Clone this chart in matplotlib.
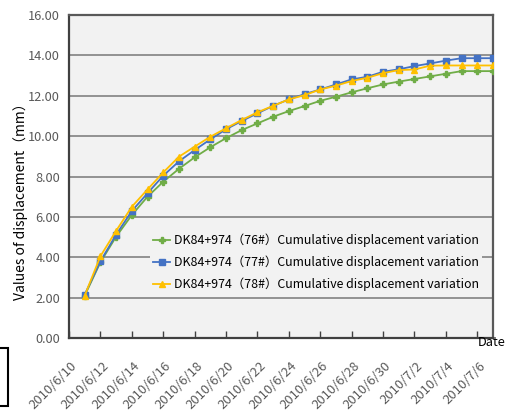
import numpy as np
import matplotlib
matplotlib.use("Agg")
import matplotlib.pyplot as plt
import matplotlib.patches as mpatches
import matplotlib.transforms as mtransforms
import datetime as dt

plt.rcParams['font.family'] = ['Noto Sans CJK SC', 'DejaVu Sans']

# Monitoring dates (daily readings)
start = dt.date(2010, 6, 11)
dates = [start + dt.timedelta(days=i) for i in range(27)]

# Cumulative displacement (mm) at three monitoring points
disp_76 = [2.10, 3.75, 5.02, 6.09, 7.00, 7.74, 8.38, 8.95, 9.45, 9.90,
           10.30, 10.63, 10.96, 11.24, 11.49, 11.75, 11.95, 12.17, 12.37,
           12.56, 12.70, 12.83, 12.96, 13.09, 13.22, 13.22, 13.22]
disp_77 = [2.15, 3.80, 5.12, 6.29, 7.17, 8.04, 8.75, 9.31, 9.84, 10.34,
           10.75, 11.13, 11.50, 11.82, 12.08, 12.31, 12.56, 12.81, 12.94,
           13.19, 13.31, 13.47, 13.60, 13.74, 13.86, 13.86, 13.86]
disp_78 = [2.10, 4.05, 5.31, 6.50, 7.36, 8.20, 8.98, 9.48, 9.97, 10.39,
           10.80, 11.18, 11.50, 11.82, 12.03, 12.31, 12.50, 12.73, 12.89,
           13.12, 13.27, 13.30, 13.49, 13.50, 13.50, 13.50, 13.50]

labels = ["DK84+974（76#）Cumulative displacement variation",
          "DK84+974（77#）Cumulative displacement variation",
          "DK84+974（78#）Cumulative displacement variation"]

x_start = dt.date(2010, 6, 10)
x_end = dt.date(2010, 7, 7)
tick_dates = [x_start + dt.timedelta(days=2 * k) for k in range(14)]
y_ticks = np.arange(0, 16.01, 2)

W, H = 511, 413
fig = plt.figure(figsize=(W / 100, H / 100), dpi=100)
fig.patch.set_facecolor('white')
ax = fig.add_axes([69 / W, 1 - 338 / H, (493 - 69) / W, (338 - 15) / H])
ax.set_facecolor('#F2F2F2')

ax.plot(dates, disp_76, color='#70AD47', lw=1.3, marker='P', ms=4.5,
        mec='#70AD47', mfc='#70AD47', label=labels[0], zorder=3)
ax.plot(dates, disp_77, color='#4472C4', lw=1.3, marker='s', ms=4.2,
        mec='#4472C4', mfc='#4472C4', label=labels[1], zorder=4)
ax.plot(dates, disp_78, color='#FFC000', lw=1.3, marker='^', ms=4.8,
        mec='#FFC000', mfc='#FFC000', label=labels[2], zorder=5)

ax.set_xlim(x_start, x_end)
ax.set_ylim(0, 16)
ax.set_yticks(y_ticks)
ax.set_yticklabels([f"{v:.2f}" for v in y_ticks], fontsize=9.2, color='#595959')
ax.tick_params(axis='y', length=0, pad=6.5)

ax.set_xticks(tick_dates)
ax.set_xticklabels([f"{d.year}/{d.month}/{d.day}" for d in tick_dates],
                   rotation=45, ha='right', va='center', rotation_mode='anchor',
                   fontsize=9.4, color='#595959')
ax.tick_params(axis='x', direction='in', length=5, width=1, color='#404040', pad=0)
shift = mtransforms.ScaledTranslation(0.06, -0.26, fig.dpi_scale_trans)
for lbl in ax.get_xticklabels():
    lbl.set_transform(lbl.get_transform() + shift)

ax.grid(axis='y', color='#8A8A8A', lw=1.3)
ax.set_axisbelow(True)

for side in ['left', 'bottom']:
    ax.spines[side].set_color('#404040')
    ax.spines[side].set_linewidth(1.6)
for side in ['top', 'right']:
    ax.spines[side].set_color('#595959')
    ax.spines[side].set_linewidth(1.6)

fig.text(21 / W, 1 - 198 / H, "Values of displacement（mm）", fontsize=10,
         color='black', rotation=90, ha='center', va='center')
fig.text(478 / W, 1 - 343 / H, "Date", fontsize=9.2, color='black', va='center', ha='left')

leg = ax.legend(loc='upper left', bbox_to_anchor=(0.19, 0.335), frameon=True,
                facecolor='#F2F2F2', edgecolor='none', framealpha=1,
                fontsize=8.9, handlelength=1.35, handletextpad=0.3,
                labelspacing=0.7, borderpad=0.3, borderaxespad=0)
leg.set_zorder(6)

# Outline box at the lower left edge
fig.patches.append(mpatches.Rectangle((-5 / W, 1 - 406 / H), 13 / W, 58 / H,
                                      transform=fig.transFigure, fill=False,
                                      edgecolor='black', lw=1.5))

fig.savefig("out.png", dpi=100)
